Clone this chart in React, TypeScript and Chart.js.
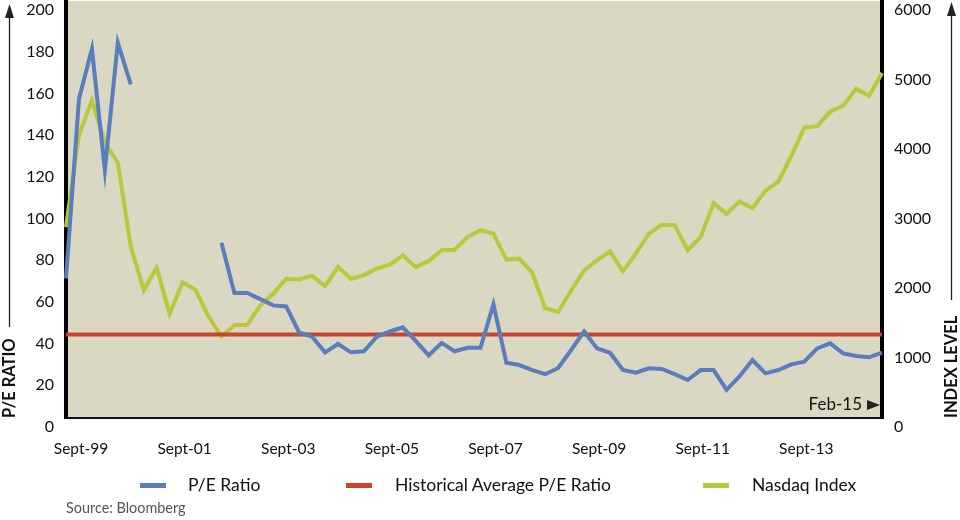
import React, { useEffect, useRef } from "react";
import { Chart, registerables } from "chart.js";

Chart.register(...registerables);

const quarters = ["Sept-99","Dec-99","Mar-00","Jun-00","Sept-00","Dec-00","Mar-01","Jun-01","Sept-01","Dec-01","Mar-02","Jun-02","Sept-02","Dec-02","Mar-03","Jun-03","Sept-03","Dec-03","Mar-04","Jun-04","Sept-04","Dec-04","Mar-05","Jun-05","Sept-05","Dec-05","Mar-06","Jun-06","Sept-06","Dec-06","Mar-07","Jun-07","Sept-07","Dec-07","Mar-08","Jun-08","Sept-08","Dec-08","Mar-09","Jun-09","Sept-09","Dec-09","Mar-10","Jun-10","Sept-10","Dec-10","Mar-11","Jun-11","Sept-11","Dec-11","Mar-12","Jun-12","Sept-12","Dec-12","Mar-13","Jun-13","Sept-13","Dec-13","Mar-14","Jun-14","Sept-14","Dec-14","Jan-15","Feb-15"];

const shownTicks = ["Sept-99","Sept-01","Sept-03","Sept-05","Sept-07","Sept-09","Sept-11","Sept-13"];

const peRatio = [67,153,177,119,180,160,null,null,null,null,null,null,84,60,60,57,54,53.5,41,39,31.5,35.5,31.5,32,39,41.5,43.5,37,30,36,32,33.7,33.7,54.5,26.5,25.4,23,21,24,32.6,41.5,33.4,31.3,23,21.7,23.8,23.5,21,18.2,23,23,13.5,20,27.8,21.4,23,25.7,27,33.4,35.8,31,29.7,29.1,31.3];

const historicalAvgValue = 40;
const historicalAvg = quarters.map(() => historicalAvgValue);

const nasdaq = [2746,4069,4573,3966,3673,2471,1840,2161,1499,1950,1845,1463,1172,1336,1341,1623,1787,2003,1994,2048,1897,2175,1999,2057,2152,2205,2340,2172,2258,2415,2422,2603,2702,2652,2279,2293,2092,1577,1529,1835,2122,2269,2398,2109,2369,2653,2781,2774,2415,2605,3092,2935,3116,3020,3268,3403,3771,4177,4199,4408,4493,4736,4635,4964];

const BLUE = "#5a7dbd";
const RED = "#c9462a";
const GREEN = "#b9c93c";
const BG = "#dad7c2";
const FONT = "Lato, 'Open Sans', sans-serif";

const decor = {
  id: "decor",
  beforeDraw(chart: any) {
    const { ctx, chartArea: a } = chart;
    ctx.save();
    ctx.fillStyle = BG;
    ctx.fillRect(a.left, a.top, a.right - a.left, a.bottom - a.top);
    ctx.restore();
  },
  afterDraw(chart: any) {
    const { ctx, chartArea: a } = chart;
    ctx.save();
    ctx.strokeStyle = "#222";
    ctx.fillStyle = "#222";
    ctx.lineWidth = 1.3;
    // left arrow
    const lx = 9.5;
    ctx.beginPath();
    ctx.moveTo(lx, 14);
    ctx.lineTo(lx, 327);
    ctx.stroke();
    ctx.beginPath();
    ctx.moveTo(lx, 4);
    ctx.lineTo(lx - 4.5, 18);
    ctx.lineTo(lx + 4.5, 18);
    ctx.closePath();
    ctx.fill();
    // right arrow
    const rx = 951.5;
    ctx.beginPath();
    ctx.moveTo(rx, 12);
    ctx.lineTo(rx, 300);
    ctx.stroke();
    ctx.beginPath();
    ctx.moveTo(rx, 2);
    ctx.lineTo(rx - 4.5, 16);
    ctx.lineTo(rx + 4.5, 16);
    ctx.closePath();
    ctx.fill();
    // rotated titles
    ctx.fillStyle = "#111";
    ctx.font = "bold 16.5px " + FONT;
    ctx.textBaseline = "middle";
    ctx.textAlign = "left";
    ctx.save();
    ctx.translate(lx, a.bottom);
    ctx.rotate(-Math.PI / 2);
    ctx.fillText("P/E RATIO", 0, 0);
    ctx.restore();
    ctx.save();
    ctx.translate(rx, a.bottom);
    ctx.rotate(-Math.PI / 2);
    ctx.fillText("INDEX LEVEL", 0, 0);
    ctx.restore();
    // Feb-15 marker
    ctx.font = "17px " + FONT;
    ctx.textAlign = "right";
    ctx.fillStyle = "#111";
    ctx.fillText("Feb-15", a.right - 20, a.bottom - 13);
    ctx.fillStyle = "#222";
    ctx.beginPath();
    ctx.moveTo(a.right - 15, a.bottom - 18);
    ctx.lineTo(a.right - 2, a.bottom - 13);
    ctx.lineTo(a.right - 15, a.bottom - 8);
    ctx.closePath();
    ctx.fill();
    ctx.restore();
  },
};

export default function App() {
  const ref = useRef<HTMLCanvasElement | null>(null);
  useEffect(() => {
    if (!ref.current) return;
    const chart = new Chart(ref.current, {
      type: "line",
      data: {
        labels: quarters,
        datasets: [
          {
            label: "P/E Ratio",
            data: peRatio,
            borderColor: BLUE,
            borderWidth: 4,
            pointRadius: 0,
            spanGaps: false,
            yAxisID: "y",
            tension: 0,
          },
          {
            label: "Historical Average P/E Ratio",
            data: historicalAvg,
            borderColor: RED,
            borderWidth: 4,
            pointRadius: 0,
            yAxisID: "y",
          },
          {
            label: "Nasdaq Index",
            data: nasdaq,
            borderColor: GREEN,
            borderWidth: 4,
            pointRadius: 0,
            yAxisID: "y1",
            tension: 0,
          },
        ],
      },
      options: {
        animation: false,
        responsive: false,
        devicePixelRatio: 1,
        layout: { padding: { top: 1, left: 0, right: 0, bottom: 0 } },
        plugins: { legend: { display: false }, tooltip: { enabled: false } },
        scales: {
          x: {
            type: "category",
            grid: { display: false, drawTicks: false },
            border: { display: true, color: "#111", width: 2 },
            ticks: {
              autoSkip: false,
              maxRotation: 0,
              minRotation: 0,
              padding: 22,
              labelOffset: 15,
              color: "#111",
              font: { family: FONT, size: 15.5 },
              callback: (_v: any, i: number) =>
                shownTicks.includes(quarters[i]) ? quarters[i] : "",
            },
            afterFit: (s: any) => {
              s.height = 102;
              s.paddingLeft = 0;
              s.paddingRight = 0;
            },
          },
          y: {
            position: "left",
            min: 0,
            max: 200,
            grid: { display: false, drawTicks: false },
            border: { display: true, color: "#000", width: 4 },
            ticks: {
              stepSize: 20,
              padding: 12,
              labelOffset: 9,
              color: "#111",
              font: { family: FONT, size: 16 },
              callback: (v: any) => String(v),
            },
            afterFit: (s: any) => {
              s.width = 66;
              s.paddingTop = 0;
              s.paddingBottom = 0;
            },
          },
          y1: {
            position: "right",
            min: 0,
            max: 6000,
            grid: { display: false, drawTicks: false },
            border: { display: true, color: "#000", width: 4 },
            ticks: {
              stepSize: 1000,
              padding: 12,
              labelOffset: 9,
              color: "#111",
              font: { family: FONT, size: 16 },
              callback: (v: any) => String(v),
            },
            afterFit: (s: any) => {
              s.width = 78;
              s.paddingTop = 0;
              s.paddingBottom = 0;
            },
          },
        },
      },
      plugins: [decor],
    });
    return () => chart.destroy();
  }, []);

  const legendItem = (color: string, text: string, sx: number, tx: number) => (
    <React.Fragment key={text}>
      <div
        style={{
          position: "absolute",
          left: sx,
          top: 483,
          width: 26,
          height: 5,
          background: color,
        }}
      />
      <div
        style={{
          position: "absolute",
          left: tx,
          top: 475,
          fontFamily: FONT,
          fontSize: 17.5,
          color: "#111",
          whiteSpace: "nowrap",
          lineHeight: "20px",
        }}
      >
        {text}
      </div>
    </React.Fragment>
  );

  return (
    <div
      style={{
        position: "absolute",
        left: 0,
        top: 0,
        width: 960,
        height: 520,
        background: "#fff",
        overflow: "hidden",
      }}
    >
      <canvas ref={ref} width={960} height={520} style={{ width: 960, height: 520, display: "block" }} />
      {legendItem(BLUE, "P/E Ratio", 140, 188)}
      {legendItem(RED, "Historical Average P/E Ratio", 346, 395)}
      {legendItem(GREEN, "Nasdaq Index", 703, 752)}
      <div
        style={{
          position: "absolute",
          left: 66,
          top: 499,
          fontFamily: FONT,
          fontSize: 14.4,
          color: "#555",
          whiteSpace: "nowrap",
          lineHeight: "18px",
        }}
      >
        Source: Bloomberg
      </div>
    </div>
  );
}
